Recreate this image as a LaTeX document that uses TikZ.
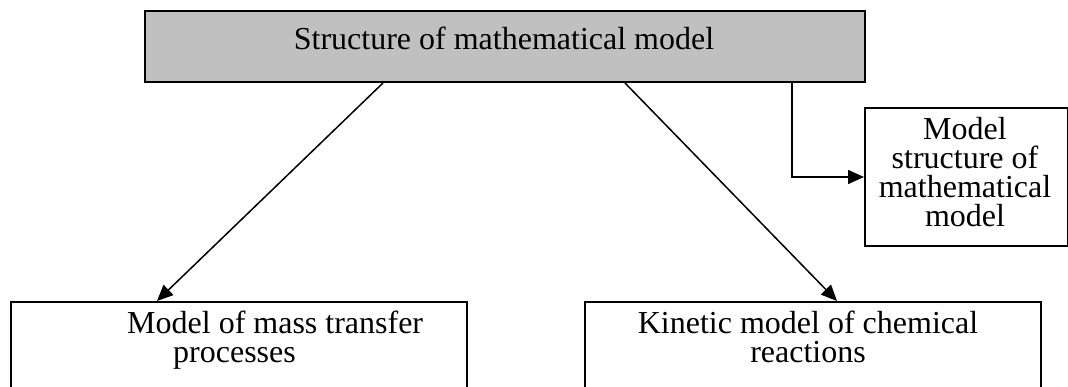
\documentclass[tikz,border=0pt]{standalone}
\usepackage{fontspec}
\setmainfont{Liberation Serif}
\usetikzlibrary{arrows.meta}
\definecolor{boxgray}{HTML}{C0C0C0}
\tikzset{
  box/.style={draw=black, line width=2pt, inner sep=0pt, anchor=north west},
  txt/.style={inner sep=0pt, font=\fontsize{32}{29}\selectfont},
  conn/.style={line width=1.5pt, -{Triangle[length=16pt,width=14pt]}}
}
\begin{document}
\begin{tikzpicture}[x=1pt,y=-1pt]
\clip (0,0) rectangle (1068,387);
\fill[white] (0,0) rectangle (1068,387);
% boxes
\node[box, fill=boxgray, minimum width=720pt, minimum height=71pt] (top) at (144,10) {};
\node[box, minimum width=203pt, minimum height=138pt] (side) at (864,107) {};
\node[box, minimum width=456pt, minimum height=120pt] (left) at (10,301) {};
\node[box, minimum width=456pt, minimum height=120pt] (right) at (584,301) {};
% texts
\node[txt, anchor=base] (ttop) at (504,50) {Structure of mathematical model};
\node[txt, anchor=base, align=center] (tside) at (965,227) {Model\\structure of\\mathematical\\model};
\node[txt, anchor=base west, align=left] (tleft) at (127,362) {Model of mass transfer\\\hspace*{46pt}processes};
\node[txt, anchor=base, align=center] (tright) at (808,362) {Kinetic model of chemical\\reactions};
% connectors
\draw[conn] ([xshift=239pt]top.south west) -- ([xshift=147pt]left.north west);
\draw[conn] ([xshift=481pt]top.south west) -- ([xshift=253pt]right.north west);
\draw[conn] ([xshift=648pt]top.south west) |- (side.west);
\end{tikzpicture}
\end{document}
